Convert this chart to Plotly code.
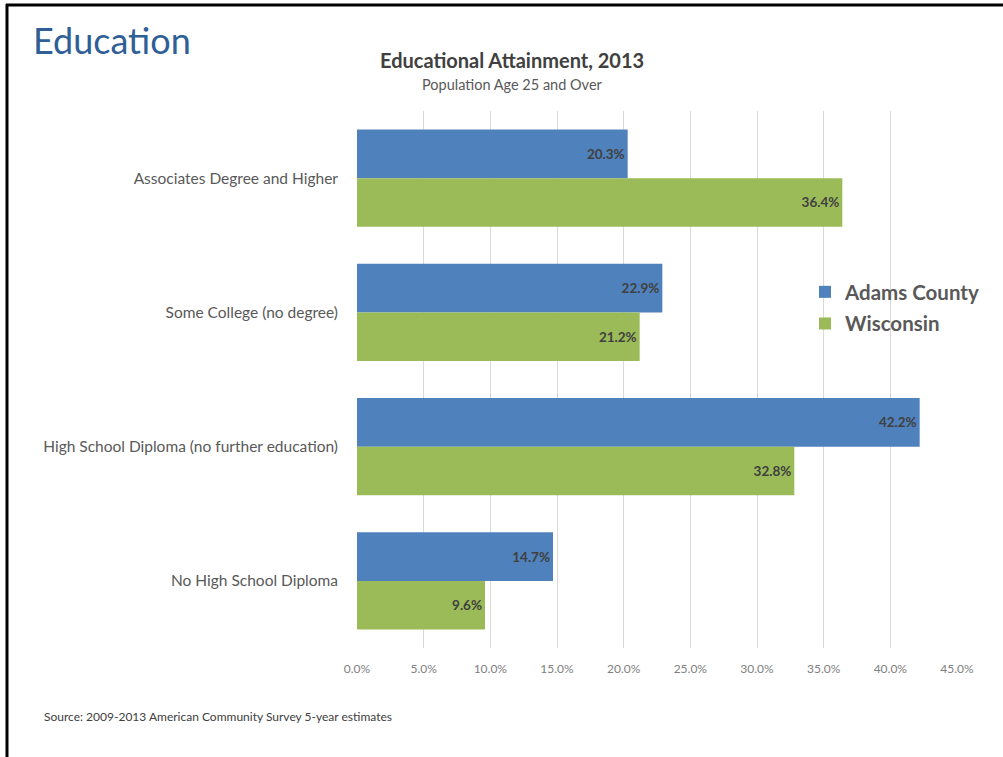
import plotly.graph_objects as go

categories = ["Associates Degree and Higher", "Some College (no degree)",
              "High School Diploma (no further education)", "No High School Diploma"]
adams = [20.3, 22.9, 42.2, 14.7]
wisconsin = [36.4, 21.2, 32.8, 9.6]
series_names = ["Adams County", "Wisconsin"]
tick_vals = [0, 5, 10, 15, 20, 25, 30, 35, 40, 45]
tick_text = ["0.0%", "5.0%", "10.0%", "15.0%", "20.0%", "25.0%", "30.0%", "35.0%", "40.0%", "45.0%"]

W, H = 1003, 757
L, R, T, B = 357, 46, 111, 109
PW, PH = W - L - R, H - T - B

def px(x):
    return (x - L) / PW

def py(y):
    return (H - B - y) / PH

FONT = "Lato"

fig = go.Figure()
for name, vals, col in [(series_names[0], adams, "#4f81bd"), (series_names[1], wisconsin, "#9bbb59")]:
    fig.add_trace(go.Bar(
        y=categories, x=vals, name=name, orientation="h", legendgroup=name,
        marker=dict(color=col, line=dict(width=0)),
        text=[f"{v:.1f}%" for v in vals], textposition="inside",
        insidetextanchor="end",
        textfont=dict(family=FONT, size=13.5, color="#404040", weight="bold"),
        cliponaxis=False,
    ))

fig.update_layout(
    width=W, height=H, margin=dict(l=L, r=R, t=T, b=B),
    paper_bgcolor="white", plot_bgcolor="white",
    barmode="group", bargap=0.276, bargroupgap=0,
    font=dict(family=FONT, color="#595959"),
    showlegend=True,
    legend=dict(x=px(805), y=py(272), xanchor="left", yanchor="top",
                font=dict(family=FONT, size=20.5, color="#595959", weight="bold"),
                bgcolor="rgba(0,0,0,0)", tracegroupgap=2),
    xaxis=dict(range=[0, 45], tickvals=tick_vals, ticktext=tick_text,
               showgrid=True, gridcolor="#d9d9d9", gridwidth=1, zeroline=False,
               showline=False, ticks="", tickfont=dict(family=FONT, size=12, color="#808080"),
               ticklabelstandoff=12),
    yaxis=dict(autorange="reversed", showgrid=False, showline=False, ticks="",
               tickfont=dict(family=FONT, size=15.5, color="#595959"), ticklabelstandoff=18),
)

ann = [
    dict(text="Education", x=px(31), y=py(40), xanchor="left", yanchor="middle",
         font=dict(family=FONT, size=36, color="#2f5f96")),
    dict(text="<b>Educational Attainment, 2013</b>", x=px(512), y=py(60), xanchor="center", yanchor="middle",
         font=dict(family=FONT, size=20, color="#404040")),
    dict(text="Population Age 25 and Over", x=px(512), y=py(84), xanchor="center", yanchor="middle",
         font=dict(family=FONT, size=14.5, color="#595959")),
    dict(text="Source: 2009-2013 American Community Survey 5-year estimates", x=px(42), y=py(716),
         xanchor="left", yanchor="middle", font=dict(family=FONT, size=12, color="#404040")),
]
for a in ann:
    a.update(xref="paper", yref="paper", showarrow=False)
fig.update_layout(annotations=ann)

fig.add_shape(type="line", xref="paper", yref="paper", x0=px(7), x1=px(7), y0=py(4), y1=py(760),
              line=dict(color="black", width=3))
fig.add_shape(type="line", xref="paper", yref="paper", x0=px(6), x1=px(1010), y0=py(5), y1=py(5),
              line=dict(color="black", width=3))

fig.write_html("out.html", config={"displayModeBar": False},
               post_script="document.body.style.margin='0';document.body.style.overflow='hidden';")
